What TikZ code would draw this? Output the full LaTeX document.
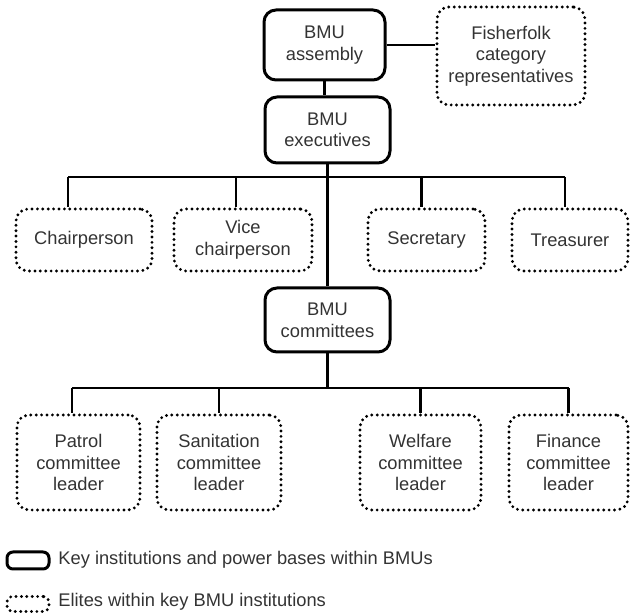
\documentclass[tikz,border=0pt]{standalone}
\usepackage{fontspec}
\setmainfont{Liberation Sans}
\usepackage{tikz}
\usetikzlibrary{positioning, calc}
\definecolor{textgray}{RGB}{51, 51, 51}

\begin{document}
\begin{tikzpicture}[
    x=0.5pt, y=-0.5pt,
    boxtext/.style={align=center, text=textgray, inner sep=0pt, font=\fontsize{9.15}{10.8}\selectfont},
    inst/.style={boxtext, rectangle, rounded corners=6pt, draw=black, line width=1.5pt},
    elite/.style={boxtext, rectangle, rounded corners=6pt, draw=black, line width=1.6pt, dash pattern=on 0pt off 2.7pt, line cap=round},
    link/.style={line width=1.2pt, black}
]
\useasboundingbox (0,0) rectangle (631,613);

% Top level
\node[inst, minimum width=60.5pt, minimum height=35pt] (asm) at (324.5,45) {BMU\\assembly};
\node[elite, minimum width=74pt, minimum height=49pt] (fish) at (511,56) {Fisherfolk\\category\\representatives};
\node[inst, minimum width=62.5pt, minimum height=33pt] (exec) at (327.5,130) {BMU\\executives};

% Executive positions
\node[elite, minimum width=68pt, minimum height=31pt] (chair) at (84,240) {Chairperson};
\node[elite, minimum width=69pt, minimum height=31pt] (vice) at (243,240) {Vice\\chairperson};
\node[elite, minimum width=58.5pt, minimum height=31pt] (secr) at (426.5,240) {Secretary};
\node[elite, minimum width=58pt, minimum height=31pt] (treas) at (570,240) {Treasurer};

% Committees
\node[inst, minimum width=62.5pt, minimum height=32pt] (comm) at (327.5,320) {BMU\\committees};
\node[elite, minimum width=61.5pt, minimum height=47.5pt] (patrol) at (78.5,462.5) {Patrol\\committee\\leader};
\node[elite, minimum width=62pt, minimum height=47.5pt] (sanit) at (219,462.5) {Sanitation\\committee\\leader};
\node[elite, minimum width=60.5pt, minimum height=47.5pt] (welf) at (420.5,462.5) {Welfare\\committee\\leader};
\node[elite, minimum width=59.5pt, minimum height=47.5pt] (fin) at (568.5,462.5) {Finance\\committee\\leader};

% Bus lines
\coordinate (busA) at (0,177);
\coordinate (busB) at (0,388);
\coordinate (s1) at ($(chair.north)+(-16,0)$);
\coordinate (s2) at ($(vice.north)+(-7,0)$);
\coordinate (s3) at ($(secr.north)+(-5,0)$);
\coordinate (s4) at ($(treas.north)+(-5,0)$);
\coordinate (t1) at ($(patrol.north)+(-6.5,0)$);

% Connectors
\draw[link] (asm.east) -- (asm.east -| fish.west);
\draw[link] (asm.south) -- (asm.south |- exec.north);
\draw[link] (exec.south) -- (comm.north);
\draw[link] (s1 |- busA) -- (s4 |- busA);
\foreach \s in {s1,s2,s3,s4}
    \draw[link] (\s |- busA) -- (\s);
\draw[link] (comm.south) -- (comm.south |- busB);
\draw[link] (t1 |- busB) -- (fin.north |- busB);
\draw[link] (t1 |- busB) -- (t1);
\foreach \n in {sanit,welf,fin}
    \draw[link] (\n.north |- busB) -- (\n.north);

% Legend
\node[inst, rounded corners=3pt, minimum width=21pt, minimum height=8.5pt] (keyinst) at (28,560.5) {};
\node[boxtext, anchor=west] (keyinsttext) at (58,560) {Key institutions and power bases within BMUs};
\node[elite, rounded corners=3pt, minimum width=21pt, minimum height=7.5pt] (keyelite) at (28,604) {};
\node[boxtext, anchor=west] (keyelitetext) at (58,602) {Elites within key BMU institutions};
\end{tikzpicture}
\end{document}
